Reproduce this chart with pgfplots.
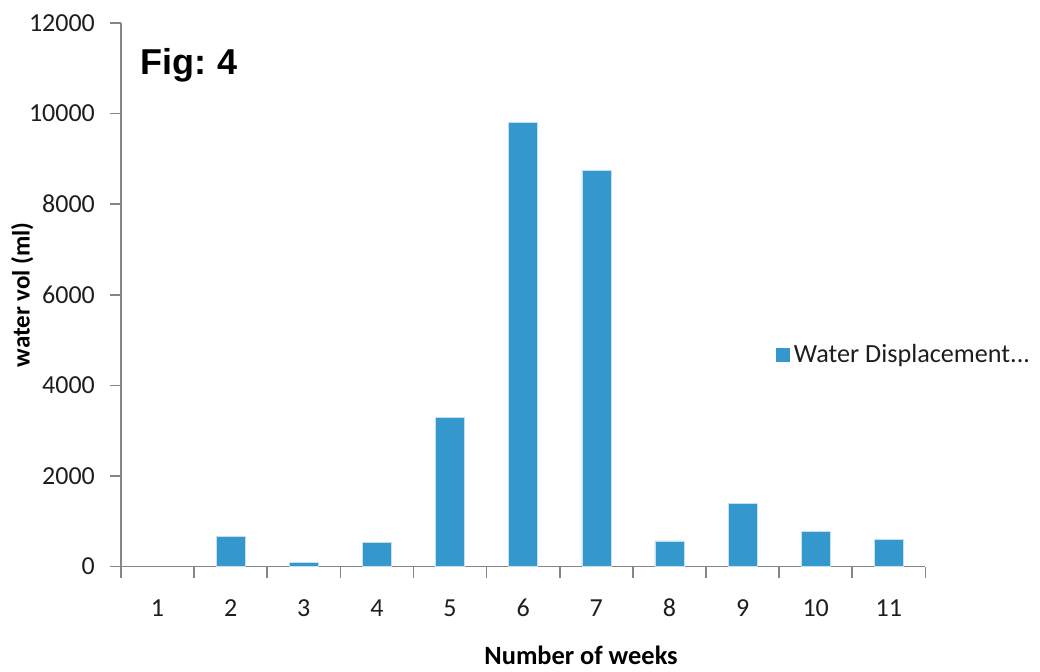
\documentclass[border=0pt]{standalone}
\usepackage{pgfplots}
\pgfplotsset{compat=1.18}
\usepackage{fontspec}
\setmainfont{Carlito}
\newfontfamily\arialfont{Liberation Sans}
\definecolor{barblue}{RGB}{52,152,204}
\definecolor{axisgray}{RGB}{134,134,134}
\definecolor{labelgray}{RGB}{30,30,30}

\begin{document}
\begin{tikzpicture}
\begin{axis}[
  scale only axis,
  width=402.5pt, height=272pt,
  xmin=0.5, xmax=11.5,
  ymin=0, ymax=12000,
  axis lines*=left,
  axis line style={draw=axisgray, line width=0.8pt, -},
  tick style={draw=axisgray, line width=0.8pt},
  tick align=outside,
  xtick={1,...,11},
  xticklabels={1,2,3,4,5,6,7,8,9,10,11},
  major x tick style={draw=none},
  minor xtick={0.5,1.5,...,11.5},
  minor tick length=5.5pt,
  ytick={0,2000,...,12000},
  major tick length=5.5pt,
  scaled y ticks=false,
  /pgf/number format/1000 sep={},
  /pgf/number format/assume math mode=true,
  ticklabel style={font=\fontsize{13}{15}\selectfont, text=labelgray},
  xticklabel style={yshift=-7pt, text height=9pt, text depth=0pt},
  yticklabel style={xshift=-4pt},
  xlabel={\textbf{Number of weeks}},
  ylabel={\textbf{water vol (ml)}},
  xlabel style={font=\fontsize{13.2}{15}\selectfont, at={(axis description cs:0.572,-0.1636)}, anchor=center},
  ylabel style={font=\fontsize{12.5}{14}\selectfont, at={(axis description cs:-0.1228,0.5)}, anchor=center},
  legend style={at={(rel axis cs:0.806,0.39)}, anchor=west, draw=none, fill=none,
    font=\fontsize{13.1}{15}\selectfont, text=labelgray,
    legend cell align=left},
  legend image code/.code={\fill[barblue] (0pt,-3.4pt) rectangle (6.8pt,3.4pt);},
  clip=false,
]
\addplot[ybar, bar width=14.5pt, fill=barblue, draw=white!70!barblue, line width=0.3pt]
  coordinates {
    (2,670) (3,95) (4,540) (5,3300) (6,9810)
    (7,8750) (8,570) (9,1400) (10,780) (11,600)
  };
\addlegendentry{Water Displacement...}
\node[anchor=base west, inner sep=0pt, font=\arialfont\bfseries\fontsize{18}{20}\selectfont]
  at (rel axis cs:0.024,0.906) {Fig:\kern-1pt{} 4};
\end{axis}
% page frame around the axis box
\path (-60.5pt,-49.5pt) rectangle (459.5pt,283.5pt);
\end{tikzpicture}
\end{document}
